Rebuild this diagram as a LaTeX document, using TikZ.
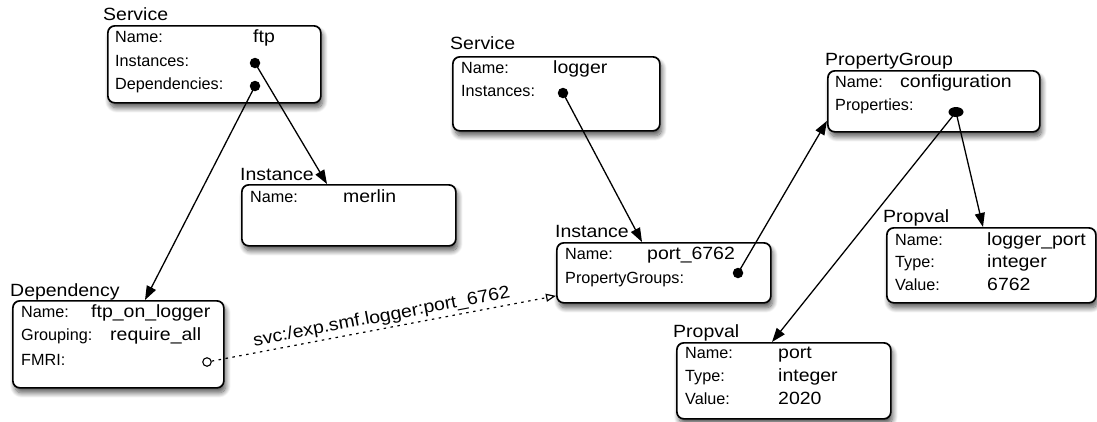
\documentclass[tikz,border=0pt]{standalone}
\usepackage{fontspec}
\setmainfont{Liberation Sans}
\newfontfamily\widesans{Liberation Sans}[FakeStretch=1.1]
\usetikzlibrary{arrows.meta,shadows.blur,calc,shapes.geometric}

\begin{document}
\begin{tikzpicture}[x=1pt,y=-1pt,
  box/.style={draw=black, line width=1.7pt, rounded corners=7pt, fill=white,
    anchor=north west, inner sep=0pt,
    blur shadow={shadow xshift=2pt, shadow yshift=-5pt, shadow blur radius=5pt,
      shadow blur steps=12, shadow opacity=65}},
  title/.style={anchor=base west, inner sep=0pt, font=\widesans\fontsize{17.7}{20}\selectfont},
  key/.style={anchor=base west, inner sep=0pt, font=\fontsize{16.2}{19}\selectfont},
  val/.style={anchor=base west, inner sep=0pt, font=\widesans\fontsize{17.7}{20}\selectfont},
  ref/.style={circle, fill=black, inner sep=0pt, minimum size=10.5pt},
  link/.style={line width=1.3pt, -{Triangle[length=14pt,width=10pt]}},
  dashlink/.style={line width=1.2pt, dash pattern=on 2.5pt off 4.5pt,
    -{Triangle[open,length=10pt,width=8pt]}},
]
\useasboundingbox (0,0) rectangle (1097,421);

% ---------- Service ftp ----------
\node[title] (t-ftp) at (103,20) {Service};
\node[box, minimum width=213pt, minimum height=77pt] (ftp) at (107,25) {};
\node[key] (ftp-k1) at (115,42) {Name:};
\node[val] (ftp-v1) at (253,42) {ftp};
\node[key] (ftp-k2) at (115,66) {Instances:};
\node[key] (ftp-k3) at (115,89) {Dependencies:};
\node[ref] (ftp-inst) at (255,63) {};
\node[ref] (ftp-dep) at (255,86) {};

% ---------- Instance merlin ----------
\node[title] (t-merlin) at (240,180) {Instance};
\node[box, minimum width=214pt, minimum height=61pt] (merlin) at (241,184) {};
\node[key] (merlin-k1) at (250,202) {Name:};
\node[val] (merlin-v1) at (343,202) {merlin};

% ---------- Dependency ----------
\node[title] (t-dep) at (10,296) {Dependency};
\node[box, minimum width=211pt, minimum height=87pt] (dep) at (12,300) {};
\node[key] (dep-k1) at (21,317) {Name:};
\node[val] (dep-v1) at (91,317) {ftp\_on\_logger};
\node[key] (dep-k2) at (21,340) {Grouping:};
\node[val] (dep-v2) at (110,340) {require\_all};
\node[key] (dep-k3) at (21,365) {FMRI:};
\node[circle, draw=black, line width=1.1pt, fill=white, inner sep=0pt, minimum size=8.5pt] (fmri) at (207,362) {};

% ---------- Service logger ----------
\node[title] (t-logger) at (450,49) {Service};
\node[box, minimum width=207pt, minimum height=74pt] (logger) at (452,56) {};
\node[key] (logger-k1) at (461,73) {Name:};
\node[val] (logger-v1) at (553,73) {logger};
\node[key] (logger-k2) at (461,96) {Instances:};
\node[ref] (logger-inst) at (563,93) {};

% ---------- Instance port_6762 ----------
\node[title] (t-port) at (555,237) {Instance};
\node[box, minimum width=214pt, minimum height=60pt] (port) at (556,242) {};
\node[key] (port-k1) at (565,259) {Name:};
\node[val] (port-v1) at (647,259) {port\_6762};
\node[key] (port-k2) at (565,283) {PropertyGroups:};
\node[ref] (port-pg) at (738,273) {};

% ---------- PropertyGroup configuration ----------
\node[title] (t-pg) at (825,65) {PropertyGroup};
\node[box, minimum width=212pt, minimum height=61pt] (pg) at (827,70) {};
\node[key] (pg-k1) at (835,87) {Name:};
\node[val] (pg-v1) at (900,87) {configuration};
\node[key] (pg-k2) at (835,110) {Properties:};
\node[ellipse, fill=black, inner sep=0pt, minimum width=15pt, minimum height=10pt] (pg-props) at (956,112) {};

% ---------- Propval logger_port ----------
\node[title] (t-lp) at (883,222) {Propval};
\node[box, minimum width=209pt, minimum height=75pt] (lp) at (886,227) {};
\node[key] (lp-k1) at (895,245) {Name:};
\node[val] (lp-v1) at (987,245) {logger\_port};
\node[key] (lp-k2) at (895,267) {Type:};
\node[val] (lp-v2) at (987,267) {integer};
\node[key] (lp-k3) at (895,290) {Value:};
\node[val] (lp-v3) at (987,290) {6762};

% ---------- Propval port ----------
\node[title] (t-pv) at (673,337) {Propval};
\node[box, minimum width=214pt, minimum height=76pt] (pv) at (676,342) {};
\node[key] (pv-k1) at (685,358) {Name:};
\node[val] (pv-v1) at (778,358) {port};
\node[key] (pv-k2) at (685,381) {Type:};
\node[val] (pv-v2) at (778,381) {integer};
\node[key] (pv-k3) at (685,404) {Value:};
\node[val] (pv-v3) at (778,404) {2020};

% ---------- connectors ----------
\draw[link] (ftp-inst.center) -- ([xshift=86pt]merlin.north west);
\draw[link] (ftp-dep.center) -- ([xshift=133pt]dep.north west);
\draw[link] (logger-inst.center) -- ([xshift=86pt]port.north west);
\draw[link] (port-pg.center) -- ([yshift=-19.5pt]pg.west);
\draw[link] (pg-props.center) -- ([xshift=97pt]lp.north west);
\draw[link] (pg-props.center) -- ([xshift=96pt]pv.north west);
\draw[dashlink] (fmri) -- node[sloped, above, inner sep=2.5pt,
    font=\widesans\fontsize{17.7}{20}\selectfont] (fmri-label) {svc:/exp.smf.logger:port\_6762}
  ([yshift=-23pt]port.west);
\end{tikzpicture}
\end{document}
